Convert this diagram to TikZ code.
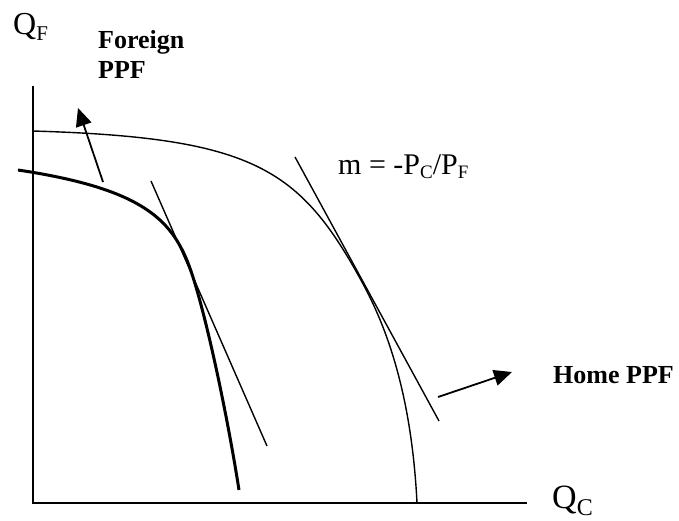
\documentclass[tikz,border=0pt]{standalone}
\usepackage{fontspec}
\setmainfont{Liberation Serif}
\usetikzlibrary{arrows.meta}

\begin{document}
\begin{tikzpicture}[x=1pt,y=-1pt,
    axis/.style={black,line width=1.6pt},
    thin curve/.style={black,line width=1.4pt},
    thick curve/.style={black,line width=3pt},
    pointer/.style={black,line width=1.8pt,-{Triangle[length=18pt,width=16pt]}},
    every node/.style={inner sep=0pt}]
	\useasboundingbox (0,0) rectangle (679,520);
	% axes
	\coordinate (top) at (33,86);
	\coordinate (origin) at (33,503);
	\coordinate (right) at (527,503);
	\draw [axis] (top) -- (origin) -- (right);
	\node [anchor=base west] (qf) at (13,34) {\fontsize{32}{32}\selectfont Q\raisebox{-6pt}{\fontsize{21}{21}\selectfont F}};
	\node [anchor=base west] (qc) at (552,508) {\fontsize{34}{34}\selectfont Q\raisebox{-7pt}{\fontsize{24}{24}\selectfont C}};
	% home PPF
	\coordinate (h0) at (33,131);
	\coordinate (htan) at (362,282);
	\coordinate (h1) at (417,503);
	\draw [thin curve] (h0) .. controls (253,137.6) and (299.7,167.9) .. (htan)
	                        .. controls (386,325.9) and (411.5,393) .. (h1);
	\coordinate (ht1) at (295,157);
	\coordinate (ht2) at (439,421);
	\draw [thin curve] (ht1) -- (ht2);
	\node [anchor=base west] (slope) at (338,174) {\fontsize{30}{30}\selectfont m = -P\raisebox{-4pt}{\fontsize{19}{19}\selectfont C}/P\raisebox{-4pt}{\fontsize{19}{19}\selectfont F}};
	\node [anchor=base west,font=\bfseries] (home) at (553,383) {\fontsize{26}{26}\selectfont Home PPF};
	\coordinate (ha) at (438,397);
	\coordinate (hb) at (512,372);
	\draw [pointer] (ha) -- (hb);
	% foreign PPF
	\coordinate (f0) at (18,170);
	\coordinate (ftan) at (186,258);
	\coordinate (f1) at (239,490);
	\draw [thick curve] (f0) .. controls (136.7,187.8) and (168,216.8) .. (ftan)
	                         .. controls (202,294.6) and (226.7,411) .. (f1);
	\coordinate (ft1) at (151,181);
	\coordinate (ft2) at (267,446);
	\draw [thin curve] (ft1) -- (ft2);
	\node [anchor=north west,align=left,font=\bfseries\fontsize{26}{30}\selectfont] (foreign) at (98,30) {Foreign\\PPF};
	\coordinate (fa) at (103,182);
	\coordinate (fb) at (78,108);
	\draw [pointer] (fa) -- (fb);
\end{tikzpicture}
\end{document}
